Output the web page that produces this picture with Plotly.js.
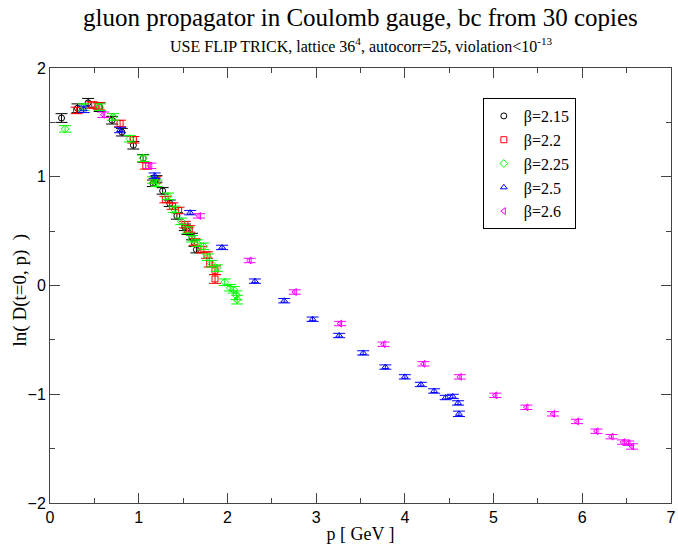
<!DOCTYPE html>
<html>
<head>
<meta charset="utf-8">
<script src="https://cdn.plot.ly/plotly-3.0.1.min.js"></script>
<style>html,body{margin:0;padding:0;background:#fff;}#chart{width:678px;height:545px;}</style>
</head>
<body>
<div id="chart"></div>
<script>
// beta = 2.15
const p215 = [0.13, 0.31, 0.43, 0.56, 0.70, 0.81, 0.94, 1.05, 1.16, 1.20, 1.27, 1.35, 1.43, 1.52, 1.55, 1.60, 1.63, 1.65];
const y215 = [1.54, 1.63, 1.68, 1.64, 1.52, 1.41, 1.29, 1.17, 0.94, 0.98, 0.87, 0.756, 0.64, 0.535, 0.50, 0.45, 0.39, 0.33];
const e215 = [0.04, 0.04, 0.04, 0.04, 0.035, 0.035, 0.035, 0.035, 0.03, 0.03, 0.03, 0.03, 0.03, 0.03, 0.03, 0.03, 0.03, 0.03];
// beta = 2.2
const p22 = [0.30, 0.47, 0.55, 0.79, 0.94, 1.08, 1.19, 1.30, 1.38, 1.45, 1.52, 1.57, 1.63, 1.70, 1.77, 1.80, 1.86, 1.86];
const y22 = [1.61, 1.66, 1.65, 1.49, 1.34, 1.10, 0.97, 0.79, 0.73, 0.69, 0.56, 0.52, 0.40, 0.33, 0.28, 0.20, 0.14, 0.06];
const e22 = [0.03, 0.03, 0.03, 0.03, 0.03, 0.03, 0.03, 0.03, 0.03, 0.03, 0.03, 0.03, 0.03, 0.03, 0.03, 0.03, 0.04, 0.04];
// beta = 2.25
const p225 = [0.17, 0.38, 0.56, 0.71, 0.90, 1.05, 1.16, 1.20, 1.33, 1.40, 1.48, 1.55, 1.60, 1.66, 1.73, 1.78, 1.82, 1.88, 1.97, 2.03, 2.07, 2.10, 2.11];
const y225 = [1.44, 1.64, 1.64, 1.55, 1.35, 1.17, 0.97, 0.94, 0.82, 0.70, 0.59, 0.51, 0.43, 0.39, 0.36, 0.26, 0.20, 0.16, 0.03, -0.02, -0.04, -0.09, -0.13];
const e225 = [0.03, 0.03, 0.03, 0.03, 0.03, 0.03, 0.03, 0.03, 0.03, 0.03, 0.03, 0.03, 0.03, 0.03, 0.03, 0.03, 0.03, 0.03, 0.03, 0.03, 0.03, 0.04, 0.04];
// beta = 2.5
const p25 = [0.38, 0.79, 1.18, 1.58, 1.94, 2.31, 2.64, 2.96, 3.26, 3.53, 3.78, 4.00, 4.18, 4.33, 4.46, 4.54, 4.60, 4.61];
const y25 = [1.62, 1.43, 1.01, 0.67, 0.35, 0.04, -0.14, -0.31, -0.46, -0.62, -0.75, -0.84, -0.91, -0.97, -1.03, -1.02, -1.08, -1.18];
const e25 = [0.03, 0.025, 0.025, 0.02, 0.02, 0.02, 0.02, 0.02, 0.02, 0.02, 0.02, 0.02, 0.02, 0.02, 0.02, 0.02, 0.02, 0.025];
// beta = 2.6
const p26 = [0.60, 1.13, 1.68, 2.25, 2.76, 3.27, 3.76, 4.21, 4.62, 5.02, 5.37, 5.67, 5.94, 6.16, 6.33, 6.46, 6.52, 6.56];
const y26 = [1.57, 1.10, 0.64, 0.23, -0.06, -0.35, -0.54, -0.72, -0.84, -1.01, -1.12, -1.18, -1.25, -1.34, -1.39, -1.44, -1.45, -1.48];
const e26 = [0.025, 0.025, 0.02, 0.02, 0.02, 0.02, 0.02, 0.02, 0.02, 0.02, 0.02, 0.02, 0.02, 0.02, 0.02, 0.02, 0.02, 0.025];

const names = ['β=2.15', 'β=2.2', 'β=2.25', 'β=2.5', 'β=2.6'];
const colors = ['#000000', '#ff0000', '#00ff00', '#0000ff', '#ff00ff'];
const symbols = ['circle-open', 'square-open', 'diamond-open', 'triangle-up-open', 'triangle-left-open'];
const xs = [p215, p22, p225, p25, p26];
const ys = [y215, y22, y225, y25, y26];
const es = [e215, e22, e225, e25, e26];

const titleText = 'gluon propagator in Coulomb gauge, bc from 30 copies';
const subtitleText = 'USE FLIP TRICK, lattice 36<sup>4</sup>, autocorr=25, violation&lt;10<sup>-13</sup>';
const yTitleText = 'ln( D(t=0, p)  )';
const xTitleText = 'p [ GeV ]';

const traces = names.map((n, i) => ({
  type: 'scatter', mode: 'markers', name: n,
  x: xs[i], y: ys[i],
  error_y: {type: 'data', array: es[i], visible: true, color: colors[i], thickness: 1, width: 6},
  marker: {symbol: symbols[i], size: 6, color: colors[i], line: {color: colors[i], width: 1}}
}));

const serif = 'Liberation Serif, Times New Roman, serif';
const axisCommon = {
  showline: true, linecolor: '#444', linewidth: 1, mirror: 'ticks',
  ticks: 'inside', ticklen: 10, tickwidth: 1, tickcolor: '#444',
  showgrid: false, zeroline: false,
  tickfont: {family: 'Liberation Sans, Arial, sans-serif', size: 16, color: '#000'},
  minor: {ticks: 'inside', ticklen: 5, tickwidth: 1, tickcolor: '#444', dtick: 0.5, showgrid: false}
};

const layout = {
  width: 678, height: 545,
  margin: {l: 50, r: 7, t: 68, b: 42},
  paper_bgcolor: '#fff', plot_bgcolor: '#fff',
  xaxis: Object.assign({}, axisCommon, {
    range: [0, 7], dtick: 1, tick0: 0,
    title: {text: xTitleText, font: {family: serif, size: 18, color: '#000'}, standoff: 2}
  }),
  yaxis: Object.assign({}, axisCommon, {
    range: [-2, 2], dtick: 1, tick0: 0
  }),
  annotations: [
    {text: titleText, xref: 'paper', yref: 'paper', x: 0.5, y: 1.115, xanchor: 'center', yanchor: 'middle',
     showarrow: false, font: {family: serif, size: 25, color: '#000'}},
    {text: subtitleText, xref: 'paper', yref: 'paper', x: 0.5, y: 1.052, xanchor: 'center', yanchor: 'middle',
     showarrow: false, font: {family: serif, size: 16, color: '#000'}},
    {text: yTitleText, xref: 'paper', yref: 'paper', x: -0.049, y: 0.49, xanchor: 'center', yanchor: 'middle',
     textangle: -90, showarrow: false, font: {family: serif, size: 19, color: '#000'}}
  ],
  showlegend: true,
  legend: {
    x: 0.697, y: 0.931, xanchor: 'left', yanchor: 'top',
    bgcolor: '#fff', bordercolor: '#000', borderwidth: 1,
    font: {family: serif, size: 16, color: '#000'}
  }
};

Plotly.newPlot('chart', traces, layout, {displayModeBar: false, staticPlot: true});
</script>
</body>
</html>
